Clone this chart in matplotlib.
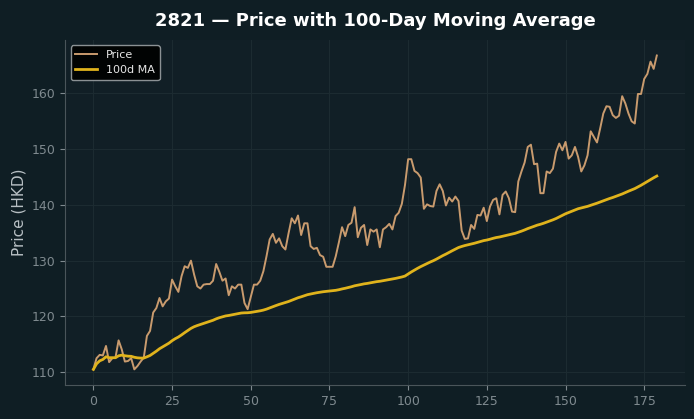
import numpy as np
import pandas as pd
import matplotlib
matplotlib.use("Agg")
import matplotlib.pyplot as plt

# 2821 收盘价
price = [
    110.5, 112.5, 113.1, 113.0, 114.7, 111.8, 112.5, 112.6, 115.7, 114.1,
    111.9, 112.0, 112.5, 110.5, 111.1, 111.9, 112.6, 116.5, 117.4, 120.7,
    121.5, 123.3, 121.8, 122.7, 123.2, 126.6, 125.4, 124.4, 127.2, 129.0,
    128.7, 130.0, 127.5, 125.4, 125.0, 125.7, 125.8, 125.8, 126.4, 129.4,
    128.0, 126.4, 126.8, 123.8, 125.4, 125.0, 125.7, 125.7, 122.4, 121.3,
    123.5, 125.7, 125.7, 126.4, 128.1, 130.8, 133.8, 134.8, 133.2, 134.0,
    132.6, 132.0, 134.9, 137.6, 136.7, 138.1, 134.6, 136.7, 136.7, 132.6,
    132.1, 132.3, 131.0, 130.7, 128.9, 128.9, 128.9, 130.8, 133.3, 136.0,
    134.4, 136.4, 136.8, 139.6, 134.2, 135.9, 136.4, 132.8, 135.6, 135.2,
    135.6, 132.4, 135.6, 136.0, 136.6, 135.6, 138.0, 138.6, 140.2, 143.6,
    148.2, 148.2, 146.1, 145.7, 144.9, 139.3, 140.1, 139.8, 139.7, 142.5,
    143.7, 142.5, 139.9, 141.3, 140.6, 141.5, 140.7, 135.4, 133.9, 134.0,
    136.4, 135.7, 138.2, 138.1, 139.5, 137.1, 139.7, 140.9, 141.2, 138.3,
    141.8, 142.4, 141.2, 138.8, 138.7, 144.2, 146.0, 147.6, 150.4, 150.8,
    147.3, 147.4, 142.1, 142.1, 146.0, 145.7, 146.5, 149.5, 151.0, 149.8,
    151.3, 148.3, 148.9, 150.4, 148.6, 146.0, 147.1, 148.9, 153.2, 152.2,
    151.2, 153.7, 156.4, 157.7, 157.6, 156.1, 155.6, 156.0, 159.5, 158.2,
    156.4, 155.0, 154.6, 159.9, 159.9, 162.6, 163.5, 165.7, 164.4, 166.8,
]
ticker = "2821"
window = 100

df = pd.DataFrame({"price": price})
df["ma"] = df["price"].rolling(window, min_periods=1).mean()

bg = "#0f1e24"
ax_bg = "#111f26"

fig = plt.figure(figsize=(6.94, 4.19), dpi=100, facecolor=bg)
ax = fig.add_axes([0.094, 0.081, 0.893, 0.824], facecolor=ax_bg)

ax.plot(df.index, df["price"], color="#c99b6e", linewidth=1.4, label="Price")
ax.plot(df.index, df["ma"], color="#e0b31c", linewidth=2.0, label="100d MA")

ax.set_title("{} — Price with 100-Day Moving Average".format(ticker),
             color="white", fontsize=13, fontweight="bold", pad=10)
ax.set_ylabel("Price (HKD)", color="#b8c0c4", fontsize=11)

ax.set_xticks([0, 25, 50, 75, 100, 125, 150, 175])
ax.set_yticks([110, 120, 130, 140, 150, 160])
ax.tick_params(colors="#7f8a8f", labelsize=9)
ax.grid(True, color="#1c2b31", linewidth=0.8)
ax.set_axisbelow(True)

for side in ["top", "right"]:
    ax.spines[side].set_visible(False)
for side in ["left", "bottom"]:
    ax.spines[side].set_color("#4a555a")

leg = ax.legend(loc="upper left", fontsize=8, facecolor="black",
                edgecolor="#9aa0a3", framealpha=0.9)
for t in leg.get_texts():
    t.set_color("#e6e6e6")

plt.savefig("out.png", dpi=100, facecolor=bg)
